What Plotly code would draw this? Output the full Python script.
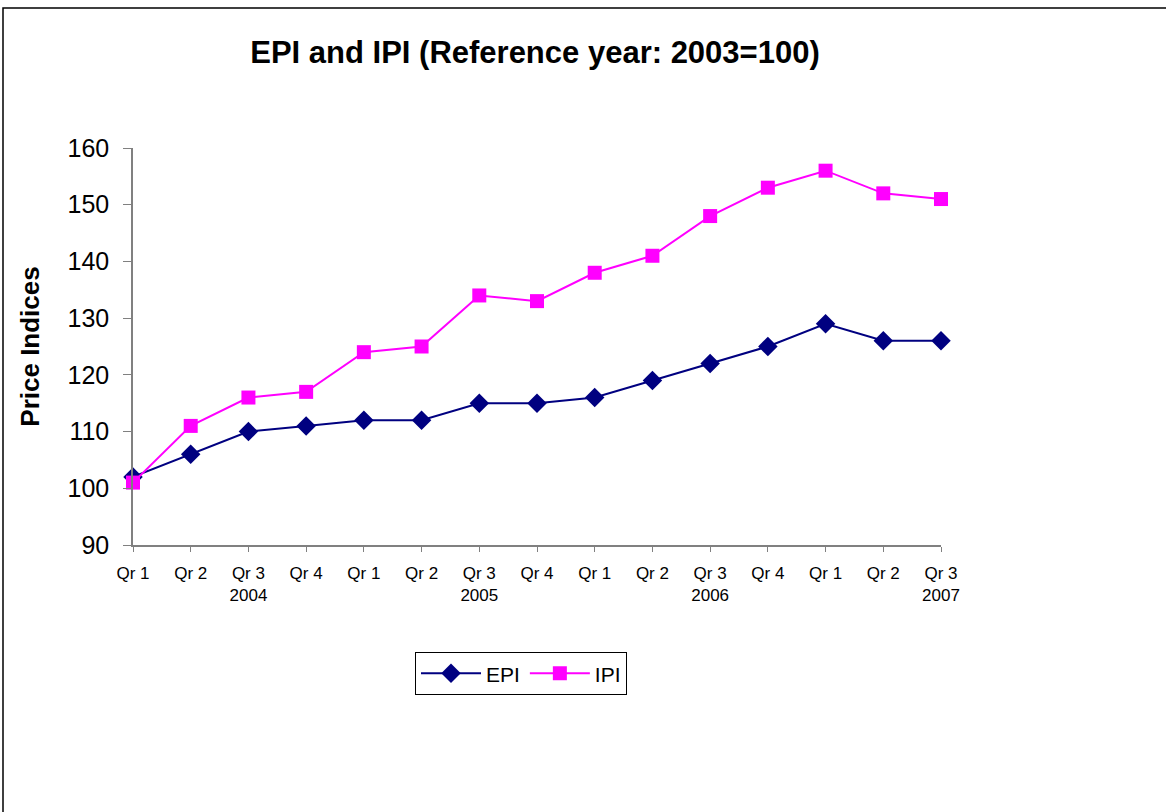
import plotly.graph_objects as go

quarters = ["Qr 1", "Qr 2", "Qr 3<br>2004", "Qr 4", "Qr 1", "Qr 2", "Qr 3<br>2005", "Qr 4",
            "Qr 1", "Qr 2", "Qr 3<br>2006", "Qr 4", "Qr 1", "Qr 2", "Qr 3<br>2007"]
epi = [102, 106, 110, 111, 112, 112, 115, 115, 116, 119, 122, 125, 129, 126, 126]
ipi = [101, 111, 116, 117, 124, 125, 134, 133, 138, 141, 148, 153, 156, 152, 151]

xs = list(range(len(quarters)))
font = "Liberation Sans, Arial, sans-serif"

fig = go.Figure()
fig.add_trace(go.Scatter(x=xs, y=epi, name="EPI", mode="lines+markers",
                         line=dict(color="#000080", width=2),
                         marker=dict(symbol="diamond", size=15, color="#000080"),
                         cliponaxis=False))
fig.add_trace(go.Scatter(x=xs, y=ipi, name="IPI", mode="lines+markers",
                         line=dict(color="#FF00FF", width=2),
                         marker=dict(symbol="square", size=14, color="#FF00FF"),
                         cliponaxis=False))

fig.update_layout(
    width=1166, height=812,
    margin=dict(l=133, r=225, t=148, b=267),
    paper_bgcolor="white", plot_bgcolor="white",
    font=dict(family=font, color="black"),
    title=dict(text="<b>EPI and IPI (Reference year: 2003=100)</b>",
               x=535 / 1166, xanchor="center", y=1 - 52 / 812, yanchor="middle",
               font=dict(size=31, family=font)),
    showlegend=True,
    legend=dict(orientation="h", x=(521 - 133) / 808, xanchor="center", y=-0.27, yanchor="top",
                bordercolor="black", borderwidth=1, font=dict(size=21),
                itemwidth=60, tracegroupgap=0, bgcolor="white"),
    xaxis=dict(range=[0, 14], tickmode="array", tickvals=xs, ticktext=quarters,
               showgrid=False, zeroline=False, showline=True, linecolor="#808080",
               linewidth=1.5, ticks="outside", ticklen=5, tickcolor="#808080",
               tickfont=dict(size=17), tickangle=0, ticklabelstandoff=7),
    yaxis=dict(range=[90, 160], dtick=10, showgrid=False, zeroline=False,
               showline=True, linecolor="#808080", linewidth=1.5,
               ticks="outside", ticklen=8, tickcolor="#808080",
               tickfont=dict(size=25), ticklabelstandoff=9,
               title=dict(text="<b>Price Indices</b>", font=dict(size=26), standoff=20)),
    shapes=[dict(type="rect", xref="paper", yref="paper",
                 x0=(3 - 133) / 808, x1=1.6, y0=-1.0, y1=(545 - 8) / 397,
                 line=dict(color="black", width=1.5), layer="below")],
)

fig.write_html("out.html", config={"displayModeBar": False},
               post_script="document.body.style.margin='0';")
